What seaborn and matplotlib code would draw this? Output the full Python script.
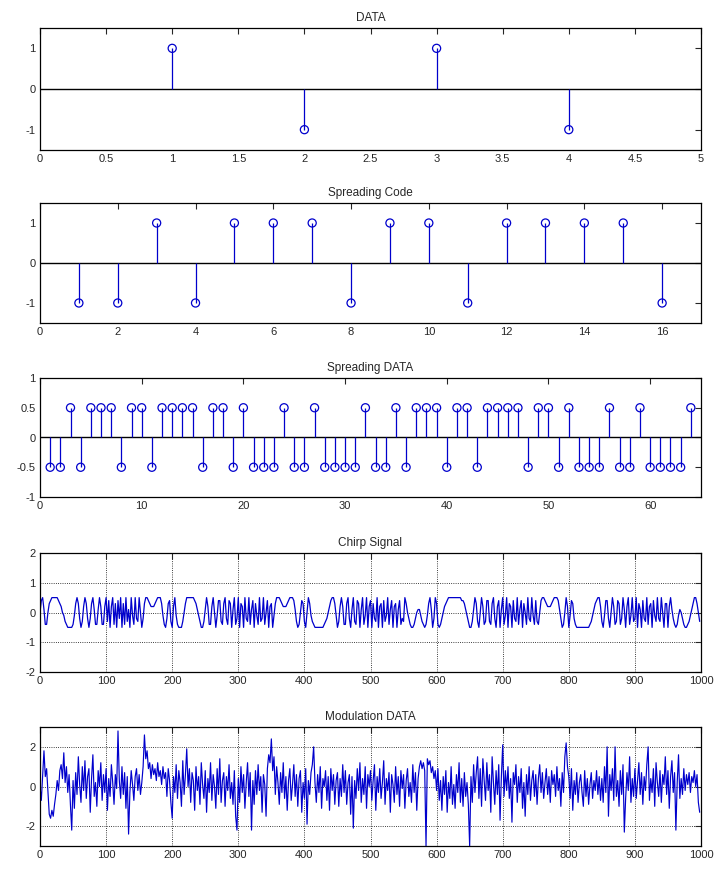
import numpy as np
import pandas as pd
import matplotlib
matplotlib.use("Agg")
import matplotlib.pyplot as plt
import seaborn as sns

# ---- data ----
data_bits = [1, -1, 1, -1]
spreading_code = [-1, -1, 1, -1, 1, 1, 1, -1, 1, 1, -1, 1, 1, 1, 1, -1]
spreading_data = [
    -0.5, -0.5, 0.5, -0.5, 0.5, 0.5, 0.5, -0.5, 0.5, 0.5, -0.5, 0.5, 0.5, 0.5, 0.5, -0.5,
    0.5, 0.5, -0.5, 0.5, -0.5, -0.5, -0.5, 0.5, -0.5, -0.5, 0.5, -0.5, -0.5, -0.5, -0.5, 0.5,
    -0.5, -0.5, 0.5, -0.5, 0.5, 0.5, 0.5, -0.5, 0.5, 0.5, -0.5, 0.5, 0.5, 0.5, 0.5, -0.5,
    0.5, 0.5, -0.5, 0.5, -0.5, -0.5, -0.5, 0.5, -0.5, -0.5, 0.5, -0.5, -0.5, -0.5, -0.5, 0.5,
]

# chirp signal, one value every 2 samples, in tenths
SAMPLE_STEP = 2
chirp_tenths = [
    0, 4, 5, 1, -4, -4, 0, 3, 4, 5, 5, 5, 5, 5, 4, 3, 2, 0, -1, -3, -4, -5, -5, -5, -5,
    -4, -1, 3, 5, 3, -2, -5, -3, 2, 5, 3, -2, -5, -2, 3, 5, 1, -4, -4, 1, 5, 2, -4, -4, 2,
    5, -3, 4, -5, 2, 5, -4, 3, -5, 4, -2, 5, -5, 3, -4, 5, -3, 1, -5, 5, -1, -4, 5, -2, -3,
    5, 0, -5, -2, 3, 5, 5, 4, 3, 2, 2, 2, 3, 4, 5, 5, 5, 3, -1, -4, -5, -2, 3, 4, -3,
    -5, 2, 5, -1, -4, -5, -5, -5, -3, 0, 3, 5, 5, 5, 5, 5, 5, 4, 3, 1, -1, -3, -5, -5, -3,
    1, 5, 2, -4, -4, 2, 5, 0, -5, -1, 4, 4, -3, -4, 3, 5, -2, -4, 4, 3, -5, 1, 5, -4, -2,
    5, -5, 3, 2, -5, 5, -2, -3, 5, -4, 1, 4, -5, 3, -1, -4, 5, -3, -2, 5, -4, 0, 4, -5, 2,
    3, -5, -1, 3, 5, 5, 5, 4, 3, 2, 2, 2, 3, 4, 5, 5, 5, 4, 1, -3, -5, -4, 0, 4, 3,
    -3, -5, 0, 5, 3, -1, -3, -4, -5, -5, -5, -5, -5, -5, -5, -4, -3, -2, 0, 2, 4, 5, 5, 3, -1,
    -5, -3, 2, 5, 2, -4, -4, 3, 5, -2, -5, 1, 5, -3, -4, 4, 3, -5, 1, 5, -4, -1, 5, -5, 2,
    4, -5, 3, -2, -3, 5, -5, 2, 3, -5, 4, -3, -1, 5, -4, 1, 4, -5, 2, 3, -5, 1, 4, -4, -2,
    -3, 5, 3, 0, -2, -4, -5, -5, -4, -2, 0, 1, 1, -1, -3, -4, -5, -4, -1, 3, 5, 1, -5, -2, 5,
    3, -4, -5, -4, -2, 0, 2, 3, 4, 5, 5, 5, 5, 5, 5, 5, 5, 5, 5, 4, 4, 3, 1, -1, -3,
    -5, -5, -3, 1, 5, 3, -3, -5, 0, 5, 2, -4, -3, 4, 4, -3, -4, 3, 5, -2, -5, 2, 4, -5, 1,
    5, -4, -1, 5, -5, 3, 2, -5, 4, -2, -3, 5, -4, 1, 4, -5, 3, 0, -4, 5, -2, -3, 5, -1, -4,
    4, -3, -4, 0, 4, 5, 5, 4, 3, 2, 2, 2, 3, 4, 5, 5, 5, 4, 1, -2, -5, -4, 0, 5, 2,
    -5, -1, 4, 3, -2, -4, -5, -5, -5, -5, -5, -5, -5, -5, -5, -5, -4, -3, -1, 1, 3, 4, 5, 5, 2,
    -3, -5, -1, 4, 4, -2, -5, 0, 5, 2, -4, -3, 4, 3, -4, -2, 5, 1, -5, 2, 5, -4, -1, 5, -3,
    -2, 5, -5, 3, 1, -5, 4, -2, -3, 5, -4, 2, 3, -5, 4, -1, -3, 5, -2, -3, 5, 0, -5, 3, 3,
    -5, 2, 5, 1, -2, -4, -5, -4, -1, 1, 0, -2, -4, -5, -5, -4, -3, -1, 1, 3, 5, 5, 3, 0, -3,
]

# modulated (noisy) signal, one value every 2 samples, in tenths
modulation_tenths = [
    0, -7, 6, 18, 5, 9, -3, -14, -16, -12, -15, -9, -4, 3, -2, 8, 11, 4, 17, 2, 10, -3, 6, -9, -22,
    3, -11, 7, -4, 15, 1, -8, 10, -2, 13, -6, 5, 9, -13, 4, 16, -5, 2, -10, 8, 0, 12, -7, 6, -3,
    9, -12, 4, -5, 11, 2, -9, 6, -1, 28, 3, -6, 10, -4, 7, -11, 5, -24, -3, 8, 1, -7, 5, 9, -2,
    6, -4, 2, 10, 26, 14, 18, 9, 12, 4, 11, 6, 9, 3, 12, 5, 8, 1, 10, 4, 7, -5, 9, 3, -8,
    -16, 5, -3, 11, -6, 8, 2, -10, 13, -4, 6, 19, 0, 9, -8, 7, 3, -12, 10, -2, 5, -9, 12, 1, -6,
    8, -13, 4, -3, 12, -7, 6, 0, -11, 9, -4, 14, -8, 3, 7, -10, 5, -2, 11, -6, 2, -9, 8, -15, -22,
    4, -8, 10, -3, 6, -11, 2, 12, -5, 7, -22, 3, -9, 8, -4, 11, -2, 5, -13, 6, 1, -15, 9, 16, 12,
    24, 8, 15, -4, 10, 2, -9, 7, -3, 12, -6, 5, -12, 3, 9, -7, 1, 11, -5, 6, -10, 4, 8, -13, 2,
    -6, 9, -19, 3, -4, 7, 11, 20, 2, -8, 6, -3, 10, -11, 4, 0, 8, -7, 5, -12, 9, -2, 6, -9, 3,
    7, -10, 4, -5, 11, -3, 8, -9, 2, 6, -14, 5, -21, 3, -6, 9, -2, 12, -8, 4, -4, 10, -11, 6, 0,
    8, -7, 3, 11, -12, 5, -3, 9, -6, 2, 13, -9, 4, -2, 7, -13, 6, 1, -8, 10, -4, 5, -10, 8, -1,
    6, -11, 3, 9, -5, 2, -8, 11, -3, 7, -12, 4, 10, 13, 9, 12, 8, -30, 14, 11, 13, 7, 10, 4, 8,
    -2, 9, -7, 3, -12, 5, -4, 8, -13, 2, -6, 10, -9, 1, -11, 6, -3, 12, -8, 4, -10, 7, -5, 2, -9,
    -30, 5, -8, 11, -3, 7, 15, -6, 9, -10, 14, 3, -7, 12, -2, 6, -13, 15, 2, -9, 8, -4, 11, -17, 5,
    21, -5, 8, -2, 10, -6, 4, -18, 7, 1, 11, -8, 5, -3, 9, -11, 2, -15, 6, -4, 10, -7, 3, 8, -5,
    6, -9, 4, 11, -3, 7, -6, 2, 9, -4, 5, -8, 8, 1, 6, -5, 10, -2, 4, -10, 7, -3, 15, 22, 10,
    5, -6, 9, -12, 3, -4, 7, -8, 2, 6, -3, -10, 8, -5, 4, -9, 1, 7, -6, 3, -2, 8, -4, 5, -7,
    4, -8, 10, -3, 20, -15, 6, -2, 9, -7, 20, -5, 3, -10, 8, -4, 11, -23, -6, 7, -2, 15, -8, 4, -5,
    9, -6, 3, 12, -4, 7, -9, 5, -2, 11, 20, -7, 4, -3, 9, -10, 12, 2, -5, 8, -8, 6, 1, 15, -4,
    8, -11, 5, 13, -3, 7, -22, 2, 16, -6, 4, -4, 9, -2, 6, 1, 7, -3, 5, 2, 8, 0, 6, -8, -13,
]

chirp_df = pd.DataFrame({
    "n": np.arange(len(chirp_tenths)) * SAMPLE_STEP,
    "value": np.array(chirp_tenths) / 10.0,
})
mod_df = pd.DataFrame({
    "n": np.arange(len(modulation_tenths)) * SAMPLE_STEP,
    "value": np.array(modulation_tenths) / 10.0,
})

# ---- style ----
sns.set_style("white")
plt.rcParams["font.family"] = ["Liberation Sans", "DejaVu Sans"]
plt.rcParams["font.size"] = 8
plt.rcParams["axes.unicode_minus"] = False

BLUE = "#0000cc"
W, H = 721, 872
fig = plt.figure(figsize=(W / 100, H / 100), dpi=100)

def make_axes(top_px, bottom_px):
    left, right = 40, 701
    return fig.add_axes([left / W, 1 - bottom_px / H, (right - left) / W, (bottom_px - top_px) / H])

def style(ax, title):
    ax.set_title(title, fontsize=8.5, pad=5)
    ax.tick_params(direction="in", top=True, right=True, length=4, width=0.8,
                   labelsize=8, pad=3)
    for s in ax.spines.values():
        s.set_visible(True)
        s.set_color("black")
        s.set_linewidth(0.9)

def stem(ax, x, y):
    ax.axhline(0, color="black", lw=1.0, zorder=1)
    ax.vlines(x, 0, y, color=BLUE, lw=0.9, zorder=2)
    sns.scatterplot(x=x, y=y, ax=ax, marker="o", s=34, facecolors="none",
                    edgecolor=BLUE, linewidth=0.9, zorder=3, legend=False)

# DATA
ax1 = make_axes(28, 150)
stem(ax1, np.arange(1, len(data_bits) + 1), data_bits)
ax1.set_xlim(0, 5)
ax1.set_ylim(-1.5, 1.5)
ax1.set_xticks(np.arange(0, 5.01, 0.5))
ax1.set_xticklabels(["0", "0.5", "1", "1.5", "2", "2.5", "3", "3.5", "4", "4.5", "5"])
ax1.set_yticks([-1, 0, 1])
style(ax1, "DATA")

# Spreading Code
ax2 = make_axes(203, 323)
stem(ax2, np.arange(1, len(spreading_code) + 1), spreading_code)
ax2.set_xlim(0, 17)
ax2.set_ylim(-1.5, 1.5)
ax2.set_xticks(range(0, 17, 2))
ax2.set_yticks([-1, 0, 1])
style(ax2, "Spreading Code")

# Spreading DATA
ax3 = make_axes(378, 497)
stem(ax3, np.arange(1, len(spreading_data) + 1), spreading_data)
ax3.set_xlim(0, 65)
ax3.set_ylim(-1, 1)
ax3.set_xticks(range(0, 61, 10))
ax3.set_yticks([-1, -0.5, 0, 0.5, 1])
ax3.set_yticklabels(["-1", "-0.5", "0", "0.5", "1"])
style(ax3, "Spreading DATA")

# Chirp Signal
ax4 = make_axes(553, 672)
sns.lineplot(data=chirp_df, x="n", y="value", ax=ax4, color=BLUE, lw=0.9,
             estimator=None, sort=False)
ax4.set_xlim(0, 1000)
ax4.set_ylim(-2, 2)
ax4.set_xticks(range(0, 1001, 100))
ax4.set_yticks([-2, -1, 0, 1, 2])
ax4.grid(True, linestyle=":", color="black", linewidth=0.6)
ax4.set_xlabel("")
ax4.set_ylabel("")
style(ax4, "Chirp Signal")

# Modulation DATA
ax5 = make_axes(727, 846)
sns.lineplot(data=mod_df, x="n", y="value", ax=ax5, color=BLUE, lw=0.85,
             estimator=None, sort=False)
ax5.set_xlim(0, 1000)
ax5.set_ylim(-3, 3)
ax5.set_xticks(range(0, 1001, 100))
ax5.set_yticks([-2, 0, 2])
ax5.grid(True, linestyle=":", color="black", linewidth=0.6)
ax5.set_xlabel("")
ax5.set_ylabel("")
style(ax5, "Modulation DATA")

fig.savefig("out.png", dpi=100)
